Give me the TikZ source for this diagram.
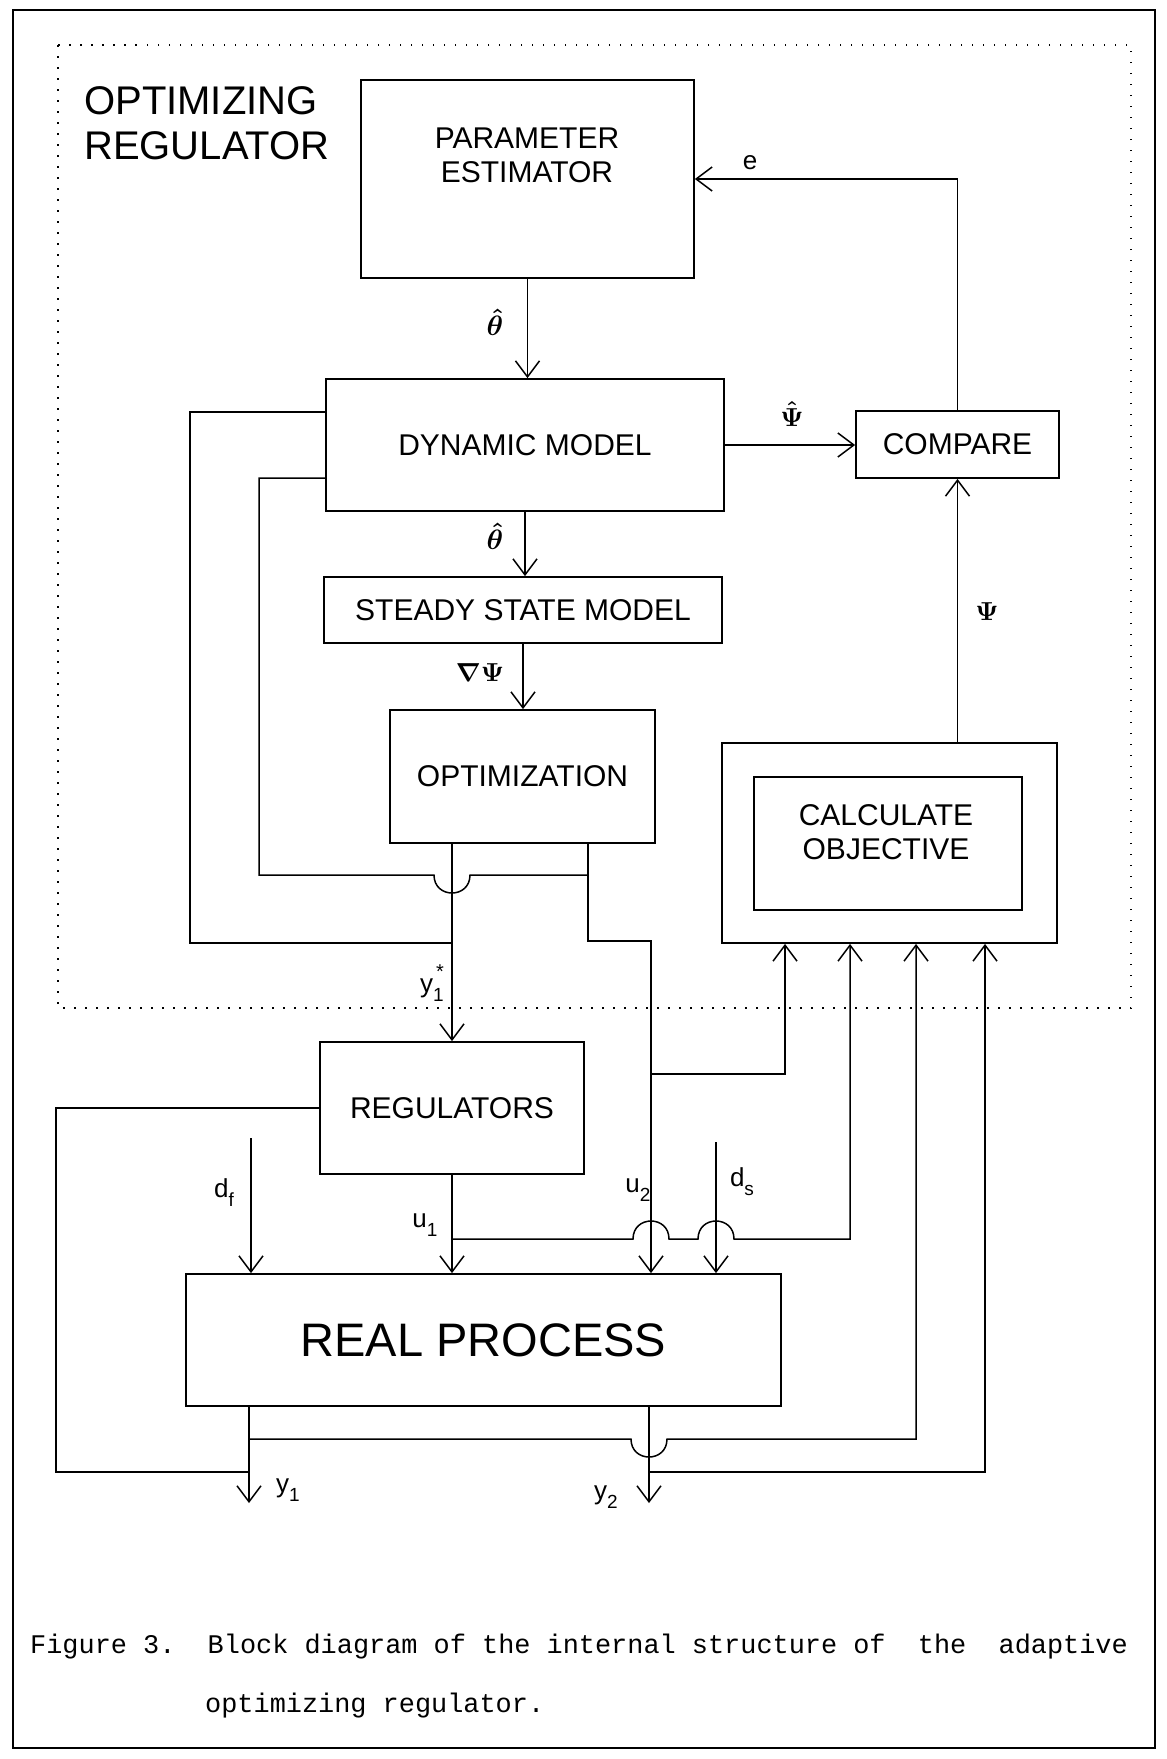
\documentclass[tikz,border=0pt]{standalone}
\usepackage{amsmath}
\usepackage{graphicx}
\usepackage{fontspec}
\setmainfont{Liberation Sans}
\newfontfamily\plotfont{Liberation Sans}
\newfontfamily\capfont{Liberation Mono}
\usetikzlibrary{arrows.meta}
\newcommand\boxfont{\plotfont\fontsize{30}{34}\selectfont}
\newcommand\lblfont{\plotfont\fontsize{26}{30}\selectfont}
\newcommand\lbsub[1]{\raisebox{-9pt}{\fontsize{19}{19}\selectfont #1}}
\begin{document}
\begin{tikzpicture}[x=1pt,y=-1pt,
  box/.style={draw, line width=1.8pt, inner sep=0pt, align=center, font=\boxfont},
  txt/.style={inner sep=0pt, align=center, font=\boxfont},
  wire/.style={line width=1.5pt},
  arr/.style={wire, -{Straight Barb[length=16pt,width=24pt,line width=1.5pt]}},
  lbl/.style={inner sep=0pt, font=\lblfont},
  mlbl/.style={inner sep=0pt}]
\useasboundingbox (0,0) rectangle (1167,1759);
% frame and regulator boundary
\draw[line width=1.2pt] (13,10) rectangle (1155,1748);
\draw[line width=1.5pt, dash pattern=on 1.5pt off 9.5pt] (58,45) rectangle (1131,1008);
% title
\node[inner sep=0pt, anchor=base west, font=\plotfont\fontsize{40}{45}\selectfont] (t1) at (84,114) {OPTIMIZING};
\node[inner sep=0pt, anchor=base west, font=\plotfont\fontsize{40}{45}\selectfont] (t2) at (84,159) {REGULATOR};
% boxes
\node[box, minimum width=333pt, minimum height=198pt] (pe) at (527.5,179) {};
\node[txt] (pet) at (527,155) {PARAMETER\\ESTIMATOR};
\node[box, minimum width=398pt, minimum height=132pt] (dm) at (525,445) {DYNAMIC MODEL};
\node[box, minimum width=203pt, minimum height=67pt] (cmp) at (957.5,444.5) {COMPARE};
\node[box, minimum width=398pt, minimum height=66pt] (ssm) at (523,610) {STEADY STATE MODEL};
\node[box, minimum width=265pt, minimum height=133pt] (opt) at (522.5,776.5) {OPTIMIZATION};
\node[box, minimum width=335pt, minimum height=200pt] (coo) at (889.5,843) {};
\node[box, minimum width=268pt, minimum height=133pt] (coi) at (888,843.5) {};
\node[txt] (cot) at (886,832) {CALCULATE\\OBJECTIVE};
\node[box, minimum width=264pt, minimum height=132pt] (reg) at (452,1108) {REGULATORS};
\node[box, minimum width=595pt, minimum height=132pt, font=\plotfont\fontsize{47}{52}\selectfont] (rp) at (483.5,1340) {REAL PROCESS};
% free ends
\coordinate (df) at (251,1138);
\coordinate (ds) at (716,1142);
\coordinate (y1e) at (249,1503);
\coordinate (y2e) at (649,1503);
% main chain
\draw[arr] (pe.south) -- (pe.south |- dm.north);
\draw[arr] (dm.south) -- (dm.south |- ssm.north);
\draw[arr] (ssm.south) -- (ssm.south |- opt.north);
\draw[arr] (dm.east) -- (dm.east -| cmp.west);
\draw[arr] (cmp.north) |- (pe.east);
\draw[arr] (cmp.south |- coo.north) -- (cmp.south);
% setpoint y1*
\draw[arr] (reg.north |- opt.south) -- (reg.north);
% outer loop to dynamic model
\draw[wire] (dm.west |- 0,412) -| (190,943) -- (reg.north |- 0,943);
% inner loop with jump
\draw[wire] (dm.west |- 0,478) -| (259,875) -- (434,875)
  .. controls (434,899) and (470,899) .. (470,875) -- (588,875);
% u2
\draw[arr] (opt.south -| 588,0) -- (588,941) -| (rp.north -| 651,0);
\draw[arr] (651,1074) -| (coo.south -| 785,0);
% u1
\draw[arr] (reg.south) -- (reg.south |- rp.north);
\draw[arr] (452,1239) -- (633,1239) .. controls (633,1215) and (669,1215) .. (669,1239)
  -- (698,1239) .. controls (698,1215) and (734,1215) .. (734,1239) -| (coo.south -| 850,0);
% disturbances
\draw[arr] (df) -- (df |- rp.north);
\draw[arr] (ds) -- (ds |- rp.north);
% outputs
\draw[arr] (rp.south -| y1e) -- (y1e);
\draw[arr] (rp.south -| y2e) -- (y2e);
\draw[arr] (249,1439) -- (631,1439) .. controls (631,1463) and (667,1463) .. (667,1439) -| (coo.south -| 916,0);
\draw[arr] (649,1472) -| (coo.south -| 985,0);
% regulator feedback
\draw[wire] (reg.west) -| (56,1472) -- (249,1472);
% labels
\node[mlbl] (lth1) at (495,322) {\scalebox{2.8}{$\boldsymbol{\hat{\theta}}$}};
\node[mlbl] (lpsih) at (792,414) {\scalebox{2.6}{$\boldsymbol{\hat{\Psi}}$}};
\node[mlbl] (lth2) at (495,536) {\scalebox{2.8}{$\boldsymbol{\hat{\theta}}$}};
\node[mlbl] (lgrad) at (480,673) {\scalebox{2.6}{$\boldsymbol{\nabla\Psi}$}};
\node[mlbl] (lpsi) at (987,612) {\scalebox{2.6}{$\boldsymbol{\Psi}$}};
\node[lbl] (le) at (750,163) {e};
\node[lbl] (lys) at (432,983) {y\lbsub{1}\llap{\raisebox{14pt}{\fontsize{20}{20}\selectfont *}}};
\node[lbl] (lu2) at (638,1190) {u\lbsub{2}};
\node[lbl] (lds) at (742,1182) {d\lbsub{s}};
\node[lbl] (ldf) at (224,1193) {d\lbsub{f}};
\node[lbl] (lu1) at (425,1225) {u\lbsub{1}};
\node[lbl] (ly1) at (288,1490) {y\lbsub{1}};
\node[lbl] (ly2) at (606,1497) {y\lbsub{2}};
% caption
\node[inner sep=0pt, anchor=base west, font=\capfont\fontsize{26.9}{30}\selectfont] (cap1) at (30,1653)
  {\frenchspacing Figure~3.~~Block~diagram~of~the~internal~structure~of~~the~~adaptive};
\node[inner sep=0pt, anchor=base west, font=\capfont\fontsize{26.9}{30}\selectfont] (cap2) at (205,1712)
  {optimizing~regulator.};
\end{tikzpicture}
\end{document}
